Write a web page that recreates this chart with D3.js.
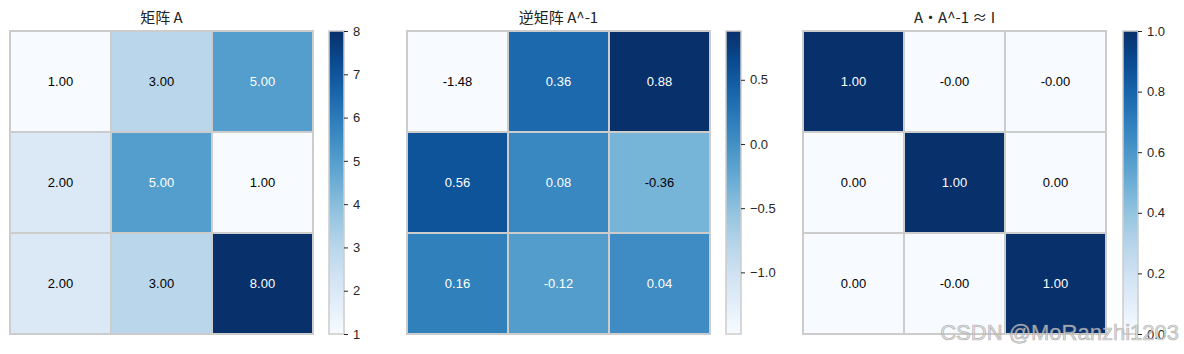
<!DOCTYPE html>
<html>
<head>
<meta charset="utf-8">
<script src="https://cdn.jsdelivr.net/npm/d3@7"></script>
<style>
  body { margin: 0; background: #fff; }
  .cell-text { font-family: "Liberation Sans", Arial, sans-serif; font-size: 13px; }
  .title { font-family: "Noto Sans CJK SC", sans-serif; font-size: 15px; fill: #222; }
  .cbar text { font-family: "Liberation Sans", Arial, sans-serif; font-size: 13px; fill: #262626; }
</style>
</head>
<body>
<script>
// matrix A, its inverse and the product (text labels kept as printed)
let titles = ["矩阵 A", "逆矩阵 A^-1", "A·A^-1 ≈ I"];
let matA = [[1, 3, 5], [2, 5, 1], [2, 3, 8]];
let matInv = [[-1.48, 0.36, 0.88], [0.56, 0.08, -0.36], [0.16, -0.12, 0.04]];
let matProd = [[1, 0, 0], [0, 1, 0], [0, 0, 1]];
let prodLabels = [["1.00", "-0.00", "-0.00"], ["0.00", "1.00", "0.00"], ["0.00", "-0.00", "1.00"]];
let ticksA = [1, 2, 3, 4, 5, 6, 7, 8];
let ticksInv = [0.5, 0, -0.5, -1.0];
let ticksProd = [0, 0.2, 0.4, 0.6, 0.8, 1.0];

let width = 1184, height = 354;
let svg = d3.select("body").append("svg")
  .attr("width", width)
  .attr("height", height);

let panels = [
  {x0: 10, cb: 329, data: matA, labels: null, ticks: ticksA, fmt: d3.format(".0f")},
  {x0: 407, cb: 726, data: matInv, labels: null, ticks: ticksInv, fmt: d3.format(".1f")},
  {x0: 803, cb: 1123, data: matProd, labels: prodLabels, ticks: ticksProd, fmt: d3.format(".1f")}
];

let plotTop = 31, size = 303, cbW = 15;

panels.forEach((p, i) => {
  let flat = p.data.flat();
  let vmin = d3.min(flat), vmax = d3.max(flat);
  let color = d3.scaleSequential(d3.interpolateBlues).domain([vmin, vmax]);

  let xs = d3.scaleBand().domain([0, 1, 2]).range([p.x0, p.x0 + size]);
  let ys = d3.scaleBand().domain([0, 1, 2]).range([plotTop, plotTop + size]);

  let g = svg.append("g");

  // title
  g.append("text")
    .attr("class", "title")
    .attr("x", p.x0 + size / 2)
    .attr("y", plotTop - 8)
    .attr("text-anchor", "middle")
    .text(titles[i]);

  let cells = [];
  p.data.forEach((row, r) => row.forEach((v, c) => cells.push({r: r, c: c, v: v})));

  g.selectAll("rect.cell")
    .data(cells)
    .enter()
    .append("rect")
    .attr("class", "cell")
    .attr("x", d => xs(d.c))
    .attr("y", d => ys(d.r))
    .attr("width", xs.bandwidth())
    .attr("height", ys.bandwidth())
    .attr("fill", d => color(d.v))
    .attr("stroke", "#cccccc")
    .attr("stroke-width", 2);

  g.selectAll("text.cell-text")
    .data(cells)
    .enter()
    .append("text")
    .attr("class", "cell-text")
    .attr("x", d => xs(d.c) + xs.bandwidth() / 2)
    .attr("y", d => ys(d.r) + ys.bandwidth() / 2)
    .attr("text-anchor", "middle")
    .attr("dominant-baseline", "central")
    .attr("fill", d => {
      let rgb = d3.rgb(color(d.v));
      let lum = 0.2126 * lin(rgb.r) + 0.7152 * lin(rgb.g) + 0.0722 * lin(rgb.b);
      return lum < 0.408 ? "#fff" : "#000";
    })
    .text(d => p.labels ? p.labels[d.r][d.c] : d3.format(".2f")(d.v).replace("−", "-"));

  // colorbar
  let cy = d3.scaleLinear().domain([vmin, vmax]).range([plotTop + size, plotTop]);
  let gradId = "grad" + i;
  let grad = svg.append("defs").append("linearGradient")
    .attr("id", gradId)
    .attr("x1", 0).attr("y1", 1).attr("x2", 0).attr("y2", 0);
  d3.range(0, 1.0001, 0.1).forEach(t => {
    grad.append("stop").attr("offset", t).attr("stop-color", d3.interpolateBlues(t));
  });
  g.append("rect")
    .attr("x", p.cb)
    .attr("y", plotTop)
    .attr("width", cbW)
    .attr("height", size)
    .attr("fill", "url(#" + gradId + ")")
    .attr("stroke", "#cccccc")
    .attr("stroke-width", 1.5);

  let axis = d3.axisRight(cy).tickValues(p.ticks).tickFormat(p.fmt).tickSize(4).tickPadding(5);
  g.append("g")
    .attr("class", "cbar")
    .attr("transform", "translate(" + (p.cb + cbW) + ",0)")
    .call(axis)
    .call(a => a.select(".domain").remove())
    .call(a => a.selectAll("line").attr("stroke", "#262626"));
});

function lin(c) {
  c = c / 255;
  return c <= 0.03928 ? c / 12.92 : Math.pow((c + 0.055) / 1.055, 2.4);
}

// watermark
svg.append("text")
  .attr("x", 1179)
  .attr("y", 340)
  .attr("text-anchor", "end")
  .attr("font-family", "Liberation Sans, Arial, sans-serif")
  .attr("font-size", 22)
  .attr("fill", "rgba(215,215,215,0.75)")
  .attr("stroke", "rgba(140,140,140,0.6)")
  .attr("stroke-width", 0.7)
  .text("CSDN @MoRanzhi1203");
</script>
</body>
</html>
